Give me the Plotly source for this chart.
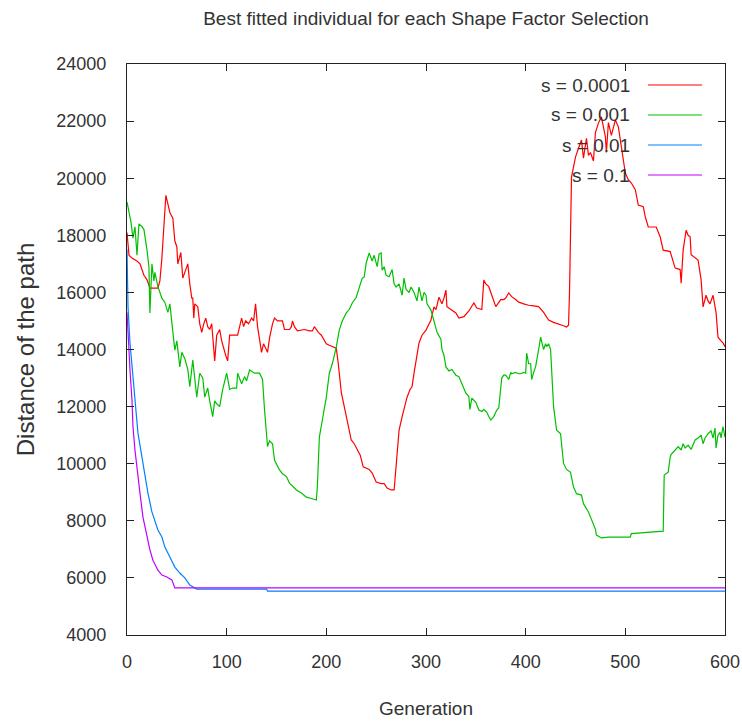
import plotly.graph_objects as go

# Best path length per generation for four shape-factor settings
gen_s0001 = [0, 2, 5, 10, 13, 17, 20, 23, 31, 33, 35, 37, 39, 41, 43, 46, 48, 50, 51, 54,
             56, 58, 61, 63, 65, 66, 67, 68, 71, 73, 75, 77, 79, 81, 83, 85, 87, 88, 90, 93,
             95, 97, 99, 101, 103, 111, 113, 115, 117, 119, 122, 125, 127, 129, 131, 133, 135, 137, 141, 143,
             146, 148, 151, 156, 158, 163, 165, 166, 168, 171, 178, 183, 186, 188, 192, 195, 200, 203, 207, 210,
             212, 215, 218, 220, 222, 225, 228, 231, 234, 237, 243, 246, 250, 255, 258, 261, 265, 268, 270, 273,
             276, 278, 281, 284, 286, 288, 291, 293, 296, 300, 305, 308, 310, 313, 316, 318, 320, 321, 325, 330,
             333, 338, 343, 346, 348, 351, 356, 358, 360, 363, 366, 370, 372, 375, 378, 380, 383, 386, 390, 393,
             398, 403, 408, 413, 418, 423, 428, 433, 438, 441, 443, 444, 445, 446, 448, 450, 453, 456, 458, 461,
             463, 465, 468, 470, 473, 476, 478, 480, 481, 483, 486, 488, 490, 493, 496, 498, 500, 503, 506, 510,
             513, 518, 520, 523, 531, 535, 538, 545, 548, 550, 555, 556, 558, 561, 563, 565, 566, 570, 573, 576,
             578, 581, 583, 585, 588, 591, 593, 596, 598, 600]
dist_s0001 = [18100, 17300, 17200, 17100, 17000, 16600, 16450, 16150, 16150, 16400, 17200, 18500, 19400, 19100, 18800, 18600, 17800, 17600, 17000, 17400,
              16500, 16700, 17000, 16300, 15800, 15800, 15100, 15600, 15500, 14900, 14600, 14900, 15100, 14800, 14700, 14900, 14200, 13600, 14500, 14700,
              14300, 14000, 13800, 13600, 14500, 14500, 14800, 15100, 14800, 15000, 14900, 15100, 15000, 15600, 14800, 14400, 13900, 14200, 13900, 14400,
              14900, 15100, 15000, 15000, 14700, 14700, 14800, 15000, 14800, 14650, 14700, 14650, 14650, 14800, 14600, 14500, 14200, 14150, 14100, 14050,
              13500, 12500, 12000, 11650, 11400, 10830, 10700, 10480, 10300, 9890, 9800, 9670, 9360, 9300, 9300, 9150, 9080, 9080, 10000, 11180,
              11640, 11900, 12330, 12600, 12700, 13170, 13870, 14230, 14500, 14680, 15030, 15490, 15400, 15830, 15600, 15800, 16080, 15500, 15400, 15280,
              15100, 15150, 15350, 15500, 15630, 15450, 15400, 16430, 16300, 16200, 15900, 15500, 15600, 15750, 15750, 15800, 15980, 15850, 15750, 15660,
              15600, 15550, 15530, 15500, 15300, 15030, 14950, 14900, 14830, 14790, 14850, 16000, 18650, 20040, 20400, 20740, 21050, 21340, 20700, 21400,
              20800, 20900, 20600, 21600, 21930, 22150, 21800, 21450, 20900, 21950, 21500, 21800, 22040, 21800, 21050, 20700, 20180, 19950, 19830, 19600,
              19060, 19000, 18650, 18290, 18290, 17940, 17480, 17430, 17130, 16850, 16800, 16320, 17480, 18180, 18000, 17950, 17320, 17200, 17130, 16450,
              15490, 15900, 15700, 15600, 15900, 15300, 14430, 14300, 14230, 14100]

gen_s001 = [0, 2, 4, 6, 8, 10, 12, 15, 17, 20, 22, 23, 25, 27, 28, 31, 35, 38, 41, 43,
            46, 48, 50, 53, 55, 58, 61, 63, 66, 68, 70, 73, 76, 78, 81, 83, 86, 88, 90, 93,
            96, 100, 103, 106, 110, 111, 115, 118, 120, 123, 128, 133, 136, 138, 140, 141, 143, 146, 148, 150,
            153, 156, 160, 163, 166, 170, 175, 180, 185, 190, 191, 193, 196, 200, 203, 206, 210, 213, 216, 220,
            223, 226, 230, 233, 236, 238, 240, 243, 246, 248, 251, 253, 255, 256, 258, 260, 263, 266, 268, 270,
            273, 276, 278, 280, 283, 285, 288, 291, 293, 296, 298, 300, 301, 305, 308, 311, 315, 316, 318, 320,
            323, 326, 330, 333, 336, 340, 343, 344, 346, 350, 353, 356, 358, 361, 363, 365, 368, 371, 373, 375,
            376, 378, 380, 383, 385, 386, 390, 393, 395, 398, 400, 401, 403, 405, 406, 408, 410, 413, 415, 418,
            420, 421, 423, 425, 426, 428, 431, 435, 438, 441, 445, 448, 451, 456, 458, 463, 466, 470, 471, 476,
            483, 490, 505, 506, 520, 538, 539, 543, 545, 546, 550, 553, 556, 558, 560, 563, 566, 570, 573, 576,
            578, 580, 583, 586, 588, 590, 591, 593, 595, 596, 598, 600]
dist_s001 = [19170, 18800, 18460, 17900, 18300, 17300, 18400, 18300, 18200, 17500, 16900, 15280, 17000, 16400, 16700, 16200, 15800, 15650, 15300, 15600,
             14700, 13980, 14300, 13390, 13900, 13680, 13300, 12700, 13630, 13000, 12330, 13170, 13000, 12330, 12650, 12200, 11650, 12200, 12100, 12000,
             12600, 13170, 12600, 12650, 12650, 13170, 12800, 13050, 12900, 13280, 13170, 13170, 12950, 11880, 10930, 10600, 10800, 10700, 10130, 10000,
             9780, 9650, 9550, 9320, 9200, 9080, 8970, 8830, 8780, 8730, 9200, 10930, 11530, 12330, 13170, 13500, 14090, 14680, 15000, 15280,
             15400, 15630, 15830, 16200, 16500, 16540, 17030, 17380, 17100, 17300, 16900, 17350, 17380, 16780, 16900, 16600, 16550, 16800, 16300, 16190,
             16300, 15900, 16500, 16100, 16000, 16190, 16000, 15700, 16190, 15700, 16000, 15900, 15600, 15380, 14950, 14610, 14350, 14000, 13800, 13390,
             13250, 13300, 13100, 13050, 12800, 12470, 12350, 11900, 12300, 12150, 11880, 11830, 11900, 11800, 11650, 11530, 11650, 11880, 11950, 12750,
             13000, 13100, 13100, 12950, 13200, 13150, 13200, 13150, 13150, 13200, 13170, 13870, 13500, 13500, 12950, 13200, 13400, 14000, 14430, 14000,
             14200, 14100, 14200, 14000, 13400, 12000, 11180, 11050, 10010, 9800, 9700, 9180, 8950, 8900, 8600, 8310, 8050, 7700, 7500, 7400,
             7430, 7430, 7430, 7550, 7600, 7640, 9600, 9700, 10230, 10330, 10480, 10600, 10480, 10700, 10550, 10650, 10500, 10830, 10900, 11000,
             10700, 10900, 11050, 11150, 10900, 11250, 10550, 11000, 11100, 10900, 11300, 10930]

gen_s01 = [0, 1, 3, 5, 8, 11, 15, 18, 21, 25, 28, 31, 35, 38, 41, 45, 48, 53, 58, 63,
           66, 70, 140, 141, 600]
dist_s01 = [17500, 15500, 14230, 13400, 12120, 11070, 10230, 9530, 8970, 8310, 8030, 7680, 7430, 7080, 6870, 6620, 6380, 6170, 6000, 5750,
            5680, 5610, 5610, 5540, 5540]

gen_s1 = [0, 1, 3, 5, 6, 8, 10, 13, 16, 20, 23, 26, 31, 35, 40, 45, 48, 600]
dist_s1 = [15300, 14500, 13280, 12230, 11290, 10480, 9780, 8970, 8130, 7430, 6980, 6620, 6270, 6100, 6030, 5930, 5650, 5650]

series_names = ["s = 0.0001", "s = 0.001", "s = 0.01", "s = 0.1"]
series_colors = ["#ff0000", "#00c000", "#0080ff", "#c000ff"]
series_gens = [gen_s0001, gen_s001, gen_s01, gen_s1]
series_dists = [dist_s0001, dist_s001, dist_s01, dist_s1]

x_ticks = [0, 100, 200, 300, 400, 500, 600]
y_ticks = [4000, 6000, 8000, 10000, 12000, 14000, 16000, 18000, 20000, 22000, 24000]

TEXT = "#333333"
FONT = "Liberation Sans, Arial, sans-serif"

fig = go.Figure()
for name, color, g, d in zip(series_names, series_colors, series_gens, series_dists):
    fig.add_trace(go.Scatter(x=g, y=d, mode="lines", name=name,
                             line=dict(color=color, width=1.2), showlegend=False))

# Key in the upper right: right-aligned label followed by a line sample
key_rows = [0.9632, 0.9107, 0.8581, 0.8056]
for name, color, yk in zip(series_names, series_colors, key_rows):
    fig.add_annotation(x=0.8445, y=yk, xref="paper", yref="paper", text=name,
                       showarrow=False, xanchor="right", yanchor="middle",
                       font=dict(family=FONT, size=19, color=TEXT))
    fig.add_shape(type="line", xref="paper", yref="paper",
                  x0=0.8712, x1=0.9615, y0=yk, y1=yk,
                  line=dict(color=color, width=1.2))

axis_common = dict(showline=True, linecolor="#222222", linewidth=1.2, mirror="allticks",
                   ticks="inside", ticklen=7, tickwidth=1, tickcolor="#222222",
                   showgrid=False, zeroline=False, ticklabeloverflow="allow", automargin=False,
                   tickfont=dict(family=FONT, size=18, color=TEXT))

fig.update_layout(
    width=742, height=722,
    margin=dict(l=127, r=17, t=64, b=87),
    paper_bgcolor="white", plot_bgcolor="white",
    title=dict(text="Best fitted individual for each Shape Factor Selection",
               x=0.5, xref="paper", y=1 - 18 / 722, yref="container", yanchor="middle",
               font=dict(family=FONT, size=19, color=TEXT)),
    xaxis=dict(range=[0, 600], tickvals=x_ticks, ticktext=[str(v) for v in x_ticks],
               title=dict(text="Generation", font=dict(family=FONT, size=19, color=TEXT), standoff=30),
               ticklabelstandoff=10, **axis_common),
    yaxis=dict(range=[4000, 24000], tickvals=y_ticks, ticktext=[str(v) for v in y_ticks],
               title=dict(text="Distance of the path", font=dict(family=FONT, size=24, color=TEXT), standoff=14),
               ticklabelstandoff=16, **axis_common),
)

fig.write_html("out.html")
